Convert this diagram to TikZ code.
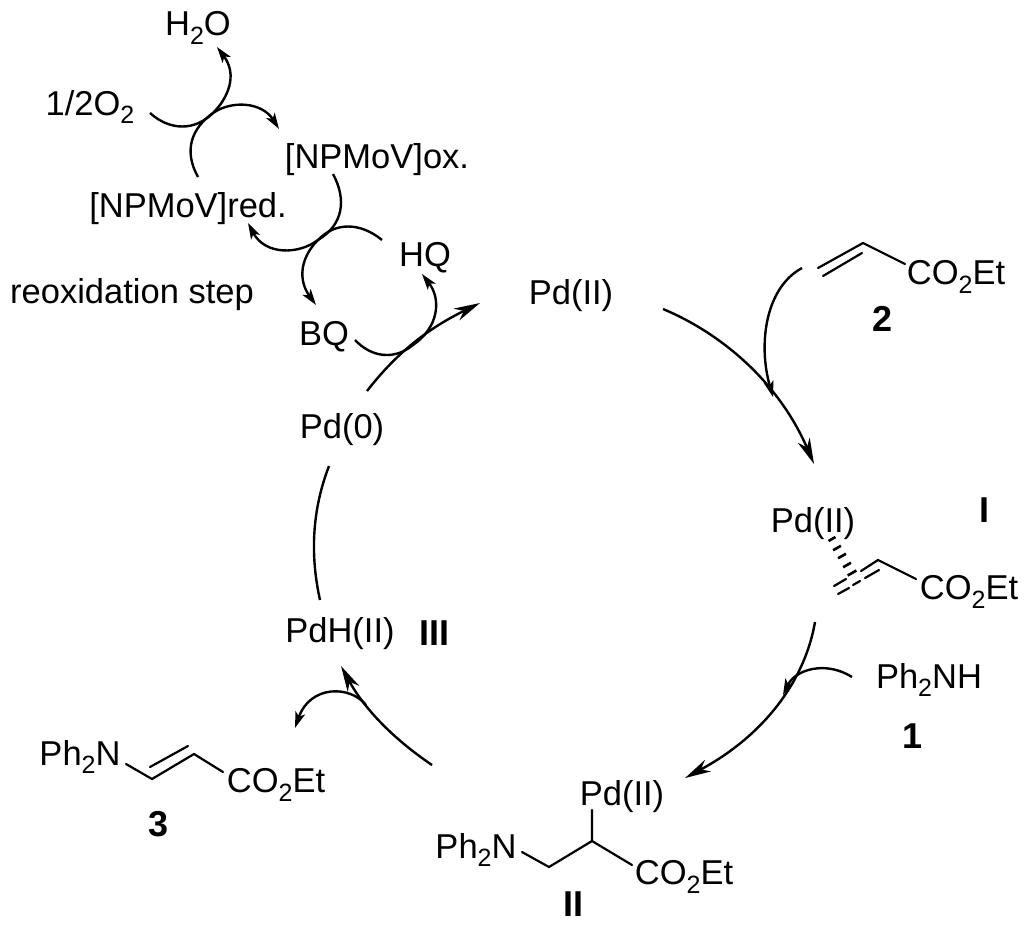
\documentclass[tikz,border=0pt]{standalone}
\usepackage{fontspec}
\setmainfont{Liberation Sans}
\usetikzlibrary{arrows.meta,calc}
\newcommand{\subn}[1]{\raisebox{-0.24em}{\fontsize{25}{25}\selectfont #1}}
\tikzset{
  x=1pt,y=-1pt,
  lbl/.style={inner sep=0pt,font=\fontsize{34.5}{38}\selectfont},
  bld/.style={inner sep=0pt,font=\fontsize{36}{38}\selectfont\bfseries},
  bond/.style={line width=2.2pt,line cap=round},
  curve/.style={line width=2.4pt},
  smallarr/.style={curve,-{Stealth[length=16pt,width=10pt,inset=4pt]}},
  bigarr/.style={curve,-{Stealth[length=26pt,width=13pt,inset=8pt]}},
  hash/.style={line width=2.6pt},
}
\begin{document}
\begin{tikzpicture}
\useasboundingbox (0,0) rectangle (1024,927);
% labels
\node[lbl] (water) at (198,28) {H\subn{2}O};
\node[lbl] (oxy) at (90,107) {1/2O\subn{2}};
\node[lbl] (npox) at (377,160) {[NPMoV]ox.};
\node[lbl] (npred) at (188,209) {[NPMoV]red.};
\node[lbl] (hq) at (425,258) {HQ};
\node[lbl] (reox) at (132,295) {reoxidation step};
\node[lbl] (bq) at (324,337) {BQ};
\node[lbl] (pd0) at (342,430) {Pd(0)};
\node[lbl] (pdtop) at (571,296) {Pd(II)};
\node[lbl] (ester2) at (956,277) {CO\subn{2}Et};
\node[bld] (n2) at (882,319) {2};
\node[lbl] (pdI) at (813,524) {Pd(II)};
\node[bld] (nI) at (984,510) {I};
\node[lbl] (esterI) at (969,592) {CO\subn{2}Et};
\node[lbl] (amine) at (929,680) {Ph\subn{2}NH};
\node[bld] (n1) at (912,736) {1};
\node[lbl] (pdII) at (622,797) {Pd(II)};
\node[lbl] (aminII) at (476,850) {Ph\subn{2}N};
\node[lbl] (esterII) at (684,877) {CO\subn{2}Et};
\node[bld] (nII) at (573,904) {II};
\node[lbl] (pdh) at (340,634) {PdH(II)};
\node[bld] (nIII) at (434,633) {III};
\node[lbl] (amin3) at (80,757) {Ph\subn{2}N};
\node[lbl] (ester3) at (276,785) {CO\subn{2}Et};
\node[bld] (n3) at (159,824) {3};
% free ends of the arrows
\coordinate (oS) at (150,113);
\coordinate (oJ) at (213,113);
\coordinate (oE) at (217,47);
\coordinate (rS) at (198,177);
\coordinate (rJ) at (213,113);
\coordinate (rE) at (279,129);
\coordinate (xS) at (333,174);
\coordinate (xJ) at (318,240);
\coordinate (xE) at (248,223);
\coordinate (hS) at (382,240);
\coordinate (hE) at (316,305);
\coordinate (bS) at (355,340);
\coordinate (bJ) at (413,345);
\coordinate (bE) at (422,274);
\coordinate (p0S) at (367,391);
\coordinate (p0E) at (480,303);
\coordinate (pS) at (663,309);
\coordinate (pE) at (814,464);
\coordinate (aS) at (802,268);
\coordinate (aE) at (773,397);
\coordinate (iS) at (815,622);
\coordinate (iE) at (685,778);
\coordinate (nS) at (852,677);
\coordinate (nE) at (783,695);
\coordinate (iiS) at (432,765);
\coordinate (iiE) at (341,666);
\coordinate (prS) at (366,705);
\coordinate (prE) at (295,728);
\coordinate (zS) at (329,466);
\coordinate (zE) at (320,600);
% reoxidation arrows
\draw[smallarr] (oS) .. controls (170,131) and (195,131) .. (oJ) .. controls (228,98) and (238,75) .. (oE);
\draw[smallarr] (rS) .. controls (183,150) and (192,128) .. (rJ) .. controls (232,100) and (262,102) .. (rE);
\draw[smallarr] (xS) .. controls (347,200) and (343,225) .. (xJ) .. controls (298,255) and (265,255) .. (xE);
\draw[smallarr] (hS) .. controls (360,222) and (335,222) .. (xJ) .. controls (300,258) and (298,280) .. (hE);
\draw[smallarr] (bS) .. controls (372,358) and (395,360) .. (bJ) .. controls (438,328) and (442,300) .. (bE);
% main cycle
\draw[bigarr] (p0S) .. controls (395,355) and (425,330) .. (p0E);
\draw[bigarr] (pS) .. controls (725,335) and (780,385) .. (pE);
\draw[smallarr] (aS) .. controls (765,288) and (758,345) .. (aE);
\draw[bigarr] (iS) .. controls (805,680) and (765,735) .. (iE);
\draw[smallarr] (nS) .. controls (825,660) and (795,670) .. (nE);
\draw[bigarr] (iiS) .. controls (395,740) and (365,710) .. (iiE);
\draw[smallarr] (prS) .. controls (350,685) and (310,685) .. (prE);
\draw[curve] (zS) .. controls (312,510) and (310,555) .. (zE);
% acrylate 2
\coordinate (a1) at (818,268); \coordinate (a2) at (863,243); \coordinate (a3) at (905,264);
\coordinate (a4) at (823,276); \coordinate (a5) at (862,253);
\draw[bond] (a1) -- (a2) -- (a3);
\draw[bond] (a4) -- (a5);
% complex I
\coordinate (c2) at (878,560); \coordinate (c3) at (916,579);
\foreach \cx/\cy/\h in {832/539/4,837/548/4.5,842/556/4.5,847/565/4.5,852/573/5}{
  \draw[hash] ($(\cx,\cy)+(-0.87*\h,0.5*\h)$) -- ($(\cx,\cy)+(0.87*\h,-0.5*\h)$);
}
\draw[bond] (834,586) -- (846,579);
\draw[bond] (861,571) -- (c2) -- (c3);
\draw[bond] (838,594) -- (849,588);
\draw[bond] (853,585) -- (860,581);
\draw[bond] (865,578) -- (879,570);
% intermediate II
\coordinate (d1) at (592,810); \coordinate (d2) at (592,841); \coordinate (d3) at (549,867);
\coordinate (d4) at (522,852); \coordinate (d5) at (632,865);
\draw[bond] (d1) -- (d2) -- (d3) -- (d4);
\draw[bond] (d2) -- (d5);
% product 3
\coordinate (e1) at (126,764); \coordinate (e2) at (152,779); \coordinate (e3) at (194,754);
\coordinate (e4) at (223,772); \coordinate (e5) at (150,767); \coordinate (e6) at (188,746);
\draw[bond] (e1) -- (e2) -- (e3) -- (e4);
\draw[bond] (e5) -- (e6);
\end{tikzpicture}
\end{document}
